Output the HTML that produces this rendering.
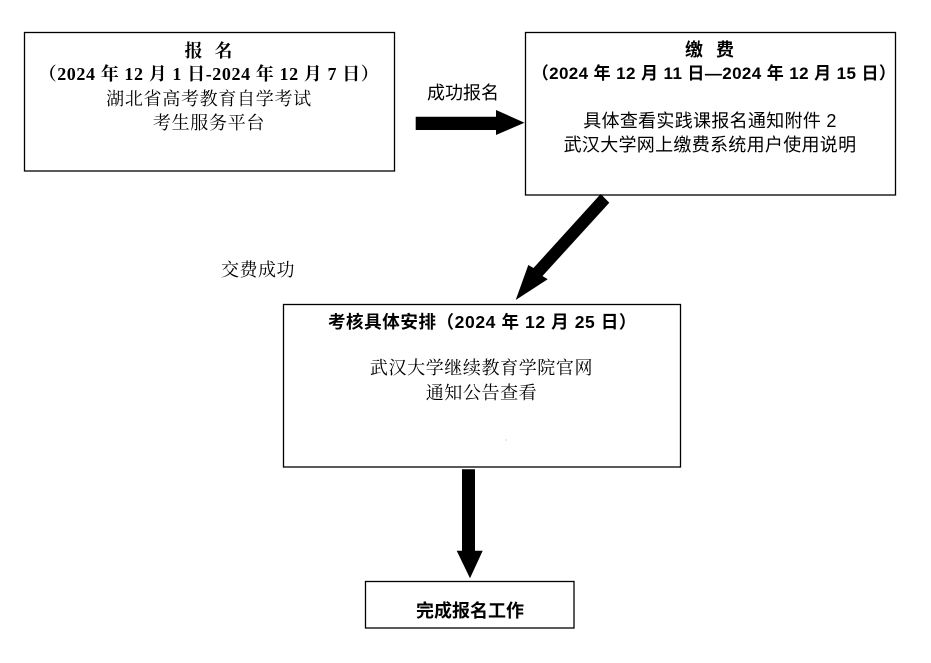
<!DOCTYPE html>
<html>
<head>
<meta charset="utf-8">
<style>
  html, body { margin:0; padding:0; background:#fff; }
  body { width:931px; height:663px; position:relative; overflow:hidden; }
  .t { position:absolute; white-space:nowrap; text-align:center; line-height:24px; height:24px; color:#000; }
  .serif { font-family:"Liberation Serif","Noto Serif CJK SC",serif; }
  .sans { font-family:"Liberation Sans","Noto Sans CJK SC",sans-serif; }
  .b { font-weight:bold; }
</style>
</head>
<body>
<svg width="931" height="663" style="position:absolute;left:0;top:0">
  <g fill="none" stroke="#000" stroke-width="1.3">
    <rect x="24.5" y="32.5" width="370" height="138.5"/>
    <rect x="525.5" y="32.5" width="370" height="162.5"/>
    <rect x="283.5" y="304.5" width="397" height="162.5"/>
    <rect x="365.5" y="581.5" width="208.5" height="46.5"/>
  </g>
  <g fill="#000">
    <polygon points="415.7,116.7 496,116.7 496,110 524.5,122.7 496,135 496,130 415.7,130"/>
    <polygon points="600.7,194 609.3,202.7 542.5,276 547.7,279.3 515.7,300 528.3,265 533.5,268"/>
    <polygon points="462,469.3 475,469.3 475,550.7 482.7,550.7 470,578.3 456.7,550.7 462,550.7"/>
  </g>
  <circle cx="506" cy="440" r="0.6" fill="#7fd0e0"/>
</svg>

<!-- Box 1 -->
<div class="t serif b" style="left:24px;width:370px;top:39px;font-size:18px;letter-spacing:1px;">报&nbsp;&nbsp;名</div>
<div class="t serif b" style="left:24px;width:370px;top:62px;font-size:18px;letter-spacing:0.6px;">（2024 年 12 月 1 日-2024 年 12 月 7 日）</div>
<div class="t serif" style="left:24px;width:370px;top:87px;font-size:18px;letter-spacing:0.7px;">湖北省高考教育自学考试</div>
<div class="t serif" style="left:24px;width:370px;top:111px;font-size:18px;letter-spacing:0.7px;">考生服务平台</div>

<!-- label -->
<div class="t sans" style="left:418px;width:90px;top:81px;font-size:18px;">成功报名</div>

<!-- Box 2 -->
<div class="t sans b" style="left:525px;width:370px;top:38px;font-size:18px;letter-spacing:1px;">缴&nbsp;&nbsp;费</div>
<div class="t sans b" style="left:529px;width:370px;top:62px;font-size:17px;letter-spacing:0.4px;">（2024 年 12 月 11 日—2024 年 12 月 15 日）</div>
<div class="t sans" style="left:525px;width:370px;top:109px;font-size:18px;letter-spacing:0.3px;">具体查看实践课报名通知附件 2</div>
<div class="t sans" style="left:525px;width:370px;top:133px;font-size:18px;letter-spacing:0.3px;">武汉大学网上缴费系统用户使用说明</div>

<!-- label -->
<div class="t serif" style="left:212px;width:92px;top:258px;font-size:18px;letter-spacing:0.5px;">交费成功</div>

<!-- Box 3 -->
<div class="t sans b" style="left:284px;width:397px;top:310px;font-size:17.5px;letter-spacing:0.6px;">考核具体安排（2024 年 12 月 25 日）</div>
<div class="t serif" style="left:283px;width:397px;top:356px;font-size:18px;letter-spacing:0.6px;">武汉大学继续教育学院官网</div>
<div class="t serif" style="left:283px;width:397px;top:381px;font-size:18px;letter-spacing:0.6px;">通知公告查看</div>

<!-- Box 4 -->
<div class="t sans b" style="left:365px;width:210px;top:599px;font-size:18px;">完成报名工作</div>
</body>
</html>
